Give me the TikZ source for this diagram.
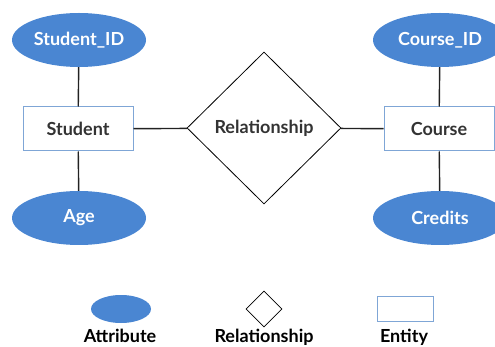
\documentclass[tikz,border=0pt]{standalone}
\usepackage{fontspec}
\setmainfont{Lato}
\usetikzlibrary{shapes.geometric}
\definecolor{attrblue}{HTML}{4A86D2}
\definecolor{entline}{HTML}{7FA6D6}
\definecolor{txtgray}{HTML}{333333}
\definecolor{linkgray}{HTML}{222222}
\tikzset{
  labelfont/.style={font=\fontsize{18}{21}\selectfont\bfseries},
  attr/.style={ellipse, fill=attrblue, draw=none, minimum width=134pt, minimum height=54pt,
    inner sep=0pt, text=white, labelfont},
  entity/.style={rectangle, draw=entline, line width=1pt, fill=white, minimum width=110pt,
    minimum height=44pt, inner sep=0pt, text=txtgray, labelfont},
  relbox/.style={diamond, draw=black, line width=0.8pt, minimum width=154pt, minimum height=152pt,
    inner sep=0pt, text=txtgray, labelfont},
  link/.style={draw=linkgray, line width=1.4pt},
  legendlabel/.style={text=black, labelfont, inner sep=0pt}
}
\begin{document}
\begin{tikzpicture}[x=1pt,y=-1pt]
  \useasboundingbox (0,0) rectangle (495,347);
  \begin{scope}
    \clip (0,0) rectangle (495,347);
    % attributes
    \node[attr] (sid) at (79,40) {Student\_ID};
    \node[attr] (age) at (79,218) {Age};
    \node[attr] (cid) at (440,40) {Course\_ID};
    \node[attr] (cred) at (440,218) {Credits};
    % entities and relationship
    \node[entity] (student) at (78,129) {Student};
    \node[entity] (course) at (439,129) {Course};
    \node[relbox] (rel) at (264,128) {Relationship};
    % connectors
    \draw[link] (sid) -- (student);
    \draw[link] (student) -- (age);
    \draw[link] (cid) -- (course);
    \draw[link] (course) -- (cred);
    \draw[link] (student) -- (rel);
    \draw[link] (rel) -- (course);
    % legend
    \node[attr, minimum width=60pt, minimum height=28pt] (lattr) at (121,309) {};
    \node[diamond, draw=black, line width=0.8pt, minimum width=36pt, minimum height=36pt, inner sep=0pt] (lrel) at (264,309) {};
    \node[rectangle, draw=entline, line width=1pt, minimum width=56pt, minimum height=25pt, inner sep=0pt] (lent) at (405,309) {};
    \node[legendlabel, anchor=base] (tattr) at (120,342) {Attribute};
    \node[legendlabel, anchor=base] (trel) at (264,342) {Relationship};
    \node[legendlabel, anchor=base] (tent) at (404,342) {Entity};
  \end{scope}
\end{tikzpicture}
\end{document}
